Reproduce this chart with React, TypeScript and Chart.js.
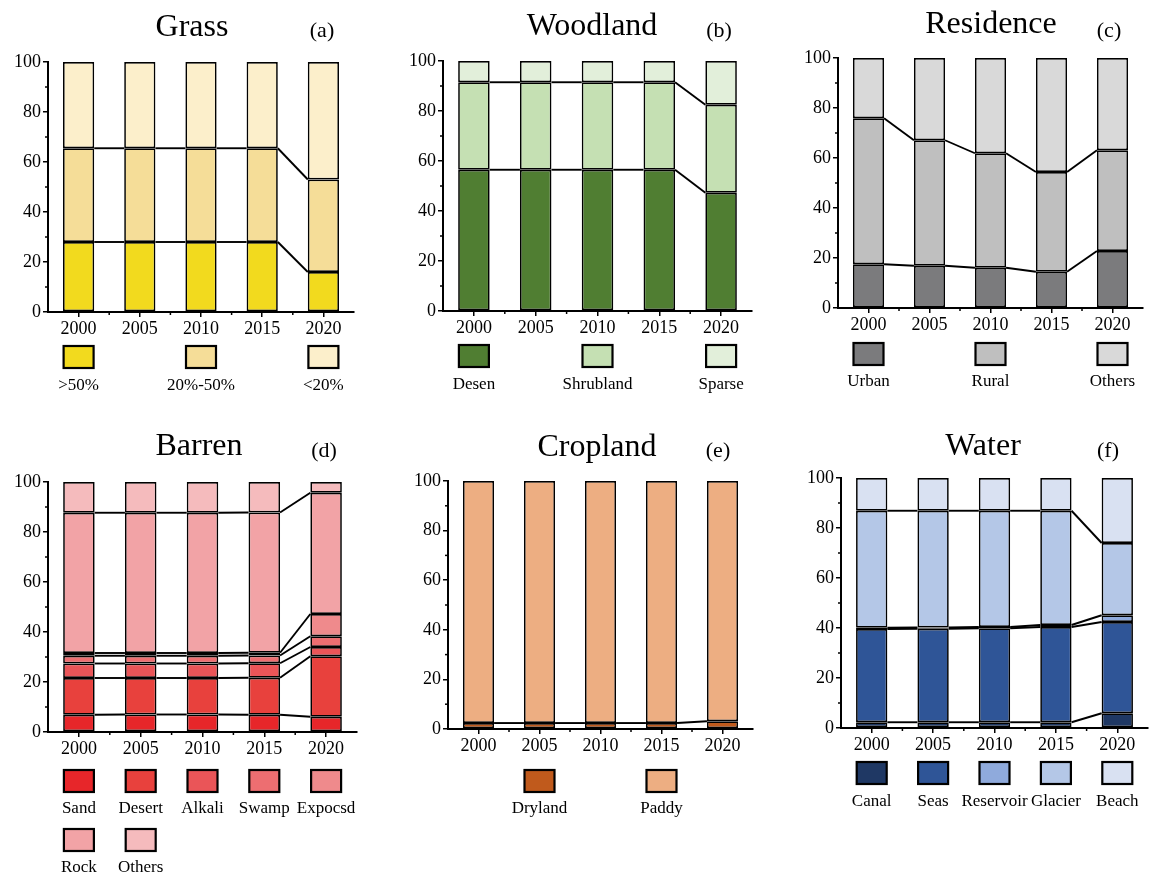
import React, { useEffect, useRef } from 'react';
import { Chart, registerables } from 'chart.js';

Chart.register(...registerables);

// ---------------- DATA ----------------
const years = ['2000', '2005', '2010', '2015', '2020'];
const yTickStep = 20;
const yMinorTicks = [10, 30, 50, 70, 90];

// (a) Grass
const grassNames = ['>50%', '20%-50%', '<20%'];
const grassHigh = [28, 28, 28, 28, 16];
const grassMid = [37.5, 37.5, 37.5, 37.5, 37];
const grassLow = [34.5, 34.5, 34.5, 34.5, 47];

// (b) Woodland
const woodNames = ['Desen', 'Shrubland', 'Sparse'];
const woodDesen = [56.5, 56.5, 56.5, 56.5, 47.3];
const woodShrub = [35, 35, 35, 35, 35.2];
const woodSparse = [8.5, 8.5, 8.5, 8.5, 17.5];

// (c) Residence
const resNames = ['Urban', 'Rural', 'Others'];
const resUrban = [17.5, 16.9, 16.1, 14.5, 22.8];
const resRural = [58.4, 50.2, 45.8, 39.9, 40.3];
const resOthers = [24.1, 32.9, 38.1, 45.6, 36.9];

// (d) Barren
const barNames = ['Sand', 'Desert', 'Alkali', 'Swamp', 'Expocsd', 'Rock', 'Others'];
const barSand = [6.9, 7.0, 7.0, 6.9, 6.1];
const barDesert = [14.7, 14.6, 14.6, 14.8, 24.2];
const barAlkali = [5.8, 5.8, 5.8, 5.8, 3.7];
const barSwamp = [3.1, 3.1, 3.1, 3.1, 4.3];
const barExposed = [1.1, 1.1, 1.1, 1.1, 8.9];
const barRock = [56.1, 56.1, 56.1, 56.1, 48.5];
const barOthers = [12.3, 12.3, 12.3, 12.2, 4.3];

// (e) Cropland
const cropNames = ['Dryland', 'Paddy'];
const cropDry = [2.4, 2.4, 2.4, 2.4, 3.1];
const cropPaddy = [97.6, 97.6, 97.6, 97.6, 96.9];

// (f) Water
const waterNames = ['Canal', 'Seas', 'Reservoir', 'Glacier', 'Beach'];
const waterCanal = [2.3, 2.3, 2.3, 2.3, 5.9];
const waterSeas = [37.3, 37.4, 37.6, 38.1, 36.5];
const waterReservoir = [0.5, 0.5, 0.5, 0.8, 2.7];
const waterGlacier = [46.8, 46.7, 46.5, 45.7, 28.9];
const waterBeach = [13.1, 13.1, 13.1, 13.1, 26.0];

// ---------------- STYLE / LAYOUT ----------------
const FONT = '"Liberation Serif", "Times New Roman", serif';

type LegendRow = { sqTop: number; labelY: number };
type PanelCfg = {
  title: string;
  tag: string;
  names: string[];
  series: number[][];
  colors: string[];
  box: { x: number; y: number; w: number; h: number };
  axis: { L: number; T: number; B: number; R: number };
  titlePos: { x: number; y: number };
  tagPos: { x: number; y: number };
  legendSlots: { slot: number; row: number }[];
  legendRows: LegendRow[];
};

const Y_W = 40;
const X_H = 30;

const panels: PanelCfg[] = [
  {
    title: 'Grass', tag: '(a)', names: grassNames,
    series: [grassHigh, grassMid, grassLow],
    colors: ['#F2DA1E', '#F5DD98', '#FCEFCB'],
    box: { x: 0, y: 0, w: 385, h: 420 },
    axis: { L: 48, T: 62, B: 312, R: 354 },
    titlePos: { x: 192, y: 28 }, tagPos: { x: 322, y: 31 },
    legendSlots: [{ slot: 0, row: 0 }, { slot: 2, row: 0 }, { slot: 4, row: 0 }],
    legendRows: [{ sqTop: 346, labelY: 386 }],
  },
  {
    title: 'Woodland', tag: '(b)', names: woodNames,
    series: [woodDesen, woodShrub, woodSparse],
    colors: ['#507E32', '#C5E0B3', '#E2EFDA'],
    box: { x: 385, y: 0, w: 390, h: 420 },
    axis: { L: 443, T: 61, B: 311, R: 752 },
    titlePos: { x: 592, y: 27 }, tagPos: { x: 719, y: 31 },
    legendSlots: [{ slot: 0, row: 0 }, { slot: 2, row: 0 }, { slot: 4, row: 0 }],
    legendRows: [{ sqTop: 345, labelY: 385 }],
  },
  {
    title: 'Residence', tag: '(c)', names: resNames,
    series: [resUrban, resRural, resOthers],
    colors: ['#7B7B7D', '#BFBFBF', '#D9D9D9'],
    box: { x: 775, y: 0, w: 379, h: 420 },
    axis: { L: 838, T: 58, B: 308, R: 1143 },
    titlePos: { x: 991, y: 25 }, tagPos: { x: 1109, y: 31 },
    legendSlots: [{ slot: 0, row: 0 }, { slot: 2, row: 0 }, { slot: 4, row: 0 }],
    legendRows: [{ sqTop: 343, labelY: 382 }],
  },
  {
    title: 'Barren', tag: '(d)', names: barNames,
    series: [barSand, barDesert, barAlkali, barSwamp, barExposed, barRock, barOthers],
    colors: ['#E7262A', '#E8413D', '#EA5558', '#ED6E71', '#EF8A8C', '#F2A3A6', '#F5BBBD'],
    box: { x: 0, y: 420, w: 385, h: 457 },
    axis: { L: 48, T: 482, B: 732, R: 357 },
    titlePos: { x: 199, y: 447 }, tagPos: { x: 324, y: 451 },
    legendSlots: [
      { slot: 0, row: 0 }, { slot: 1, row: 0 }, { slot: 2, row: 0 }, { slot: 3, row: 0 }, { slot: 4, row: 0 },
      { slot: 0, row: 1 }, { slot: 1, row: 1 },
    ],
    legendRows: [{ sqTop: 770, labelY: 809 }, { sqTop: 829, labelY: 868 }],
  },
  {
    title: 'Cropland', tag: '(e)', names: cropNames,
    series: [cropDry, cropPaddy],
    colors: ['#C05A1C', '#EDAE82'],
    box: { x: 385, y: 420, w: 390, h: 457 },
    axis: { L: 448, T: 481, B: 729, R: 753 },
    titlePos: { x: 597, y: 448 }, tagPos: { x: 718, y: 451 },
    legendSlots: [{ slot: 1, row: 0 }, { slot: 3, row: 0 }],
    legendRows: [{ sqTop: 770, labelY: 809 }],
  },
  {
    title: 'Water', tag: '(f)', names: waterNames,
    series: [waterCanal, waterSeas, waterReservoir, waterGlacier, waterBeach],
    colors: ['#1F3864', '#2F5597', '#8FAADC', '#B4C7E7', '#D9E1F2'],
    box: { x: 775, y: 420, w: 379, h: 457 },
    axis: { L: 841, T: 478, B: 728, R: 1148 },
    titlePos: { x: 983, y: 447 }, tagPos: { x: 1108, y: 451 },
    legendSlots: [
      { slot: 0, row: 0 }, { slot: 1, row: 0 }, { slot: 2, row: 0 }, { slot: 3, row: 0 }, { slot: 4, row: 0 },
    ],
    legendRows: [{ sqTop: 762, labelY: 802 }],
  },
];

// ---------------- PLUGIN ----------------
const decorPlugin = (cfg: PanelCfg) => ({
  id: 'decor' + cfg.tag,
  afterDatasetsDraw(chart: any) {
    const ctx = chart.ctx;
    const n = chart.data.datasets.length;
    ctx.save();
    ctx.strokeStyle = '#000';
    ctx.lineWidth = 1.9;
    for (let k = 0; k < n - 1; k++) {
      const meta = chart.getDatasetMeta(k);
      for (let i = 0; i < meta.data.length - 1; i++) {
        const a = meta.data[i];
        const b = meta.data[i + 1];
        ctx.beginPath();
        ctx.moveTo(a.x + a.width / 2, a.y);
        ctx.lineTo(b.x - b.width / 2, b.y);
        ctx.stroke();
      }
    }
    ctx.restore();
  },
  afterDraw(chart: any) {
    const ctx = chart.ctx;
    const xs = chart.scales.x;
    const ys = chart.scales.y;
    const ox = cfg.box.x;
    const oy = cfg.box.y;
    ctx.save();
    // minor ticks
    ctx.strokeStyle = '#000';
    ctx.lineWidth = 1.5;
    const left = chart.chartArea.left;
    const bottom = chart.chartArea.bottom;
    yMinorTicks.forEach((v) => {
      const y = ys.getPixelForValue(v);
      ctx.beginPath();
      ctx.moveTo(left - 3, y);
      ctx.lineTo(left, y);
      ctx.stroke();
    });
    for (let i = 0; i < years.length - 1; i++) {
      const x = (xs.getPixelForValue(i) + xs.getPixelForValue(i + 1)) / 2;
      ctx.beginPath();
      ctx.moveTo(x, bottom);
      ctx.lineTo(x, bottom + 3);
      ctx.stroke();
    }
    // titles
    ctx.fillStyle = '#000';
    ctx.textAlign = 'center';
    ctx.textBaseline = 'middle';
    ctx.font = `32px ${FONT}`;
    ctx.fillText(cfg.title, cfg.titlePos.x - ox, cfg.titlePos.y - oy);
    ctx.font = `22px ${FONT}`;
    ctx.fillText(cfg.tag, cfg.tagPos.x - ox, cfg.tagPos.y - oy);
    // legend
    ctx.font = `17px ${FONT}`;
    cfg.legendSlots.forEach((it, idx) => {
      const row = cfg.legendRows[it.row];
      const cx = xs.getPixelForValue(it.slot);
      const w = 30;
      const h = 22;
      const top = row.sqTop - oy;
      ctx.fillStyle = cfg.colors[idx];
      ctx.fillRect(cx - w / 2, top, w, h);
      ctx.strokeStyle = '#000';
      ctx.lineWidth = 2.2;
      ctx.strokeRect(cx - w / 2, top, w, h);
      ctx.fillStyle = '#000';
      ctx.fillText(cfg.names[idx], cx, row.labelY - oy);
    });
    ctx.restore();
  },
});

function Panel({ cfg }: { cfg: PanelCfg }) {
  const ref = useRef<HTMLCanvasElement>(null);
  useEffect(() => {
    const { box, axis } = cfg;
    const padding = {
      left: axis.L - box.x - Y_W,
      top: axis.T - box.y,
      right: box.x + box.w - axis.R,
      bottom: box.y + box.h - axis.B - X_H,
    };
    const chart = new Chart(ref.current as HTMLCanvasElement, {
      type: 'bar',
      data: {
        labels: years,
        datasets: cfg.series.map((d, i) => ({
          label: cfg.names[i],
          data: d,
          backgroundColor: cfg.colors[i],
          borderColor: '#000',
          borderWidth: 1.7,
          borderSkipped: false,
          barPercentage: 0.51,
          categoryPercentage: 1,
        })),
      },
      options: {
        animation: false,
        responsive: false,
        layout: { padding },
        plugins: {
          legend: { display: false },
          tooltip: { enabled: false },
          title: { display: false },
        },
        scales: {
          x: {
            stacked: true,
            offset: true,
            grid: {
              display: true,
              offset: false,
              drawOnChartArea: false,
              drawTicks: true,
              tickLength: 5,
              color: '#000',
              lineWidth: 1.5,
            },
            border: { display: true, color: '#000', width: 2 },
            ticks: {
              font: { family: FONT, size: 18 },
              color: '#000',
              padding: 1,
              maxRotation: 0,
              autoSkip: false,
            },
            afterFit: (s: any) => { s.height = X_H; },
          },
          y: {
            stacked: true,
            min: 0,
            max: 100,
            ticks: {
              stepSize: yTickStep,
              font: { family: FONT, size: 18 },
              color: '#000',
              padding: 2,
            },
            grid: {
              display: true,
              drawOnChartArea: false,
              drawTicks: true,
              tickLength: 5,
              color: '#000',
              lineWidth: 1.5,
            },
            border: { display: true, color: '#000', width: 2 },
            afterFit: (s: any) => { s.width = Y_W; },
          },
        },
      } as any,
      plugins: [decorPlugin(cfg)],
    });
    return () => chart.destroy();
  }, [cfg]);
  return (
    <div style={{ position: 'absolute', left: cfg.box.x, top: cfg.box.y, width: cfg.box.w, height: cfg.box.h }}>
      <canvas ref={ref} width={cfg.box.w} height={cfg.box.h} style={{ width: cfg.box.w, height: cfg.box.h, display: 'block' }} />
    </div>
  );
}

export default function App() {
  return (
    <div style={{ position: 'absolute', left: 0, top: 0, width: 1154, height: 877, background: '#fff', overflow: 'hidden' }}>
      {panels.map((p) => (
        <Panel key={p.tag} cfg={p} />
      ))}
    </div>
  );
}
